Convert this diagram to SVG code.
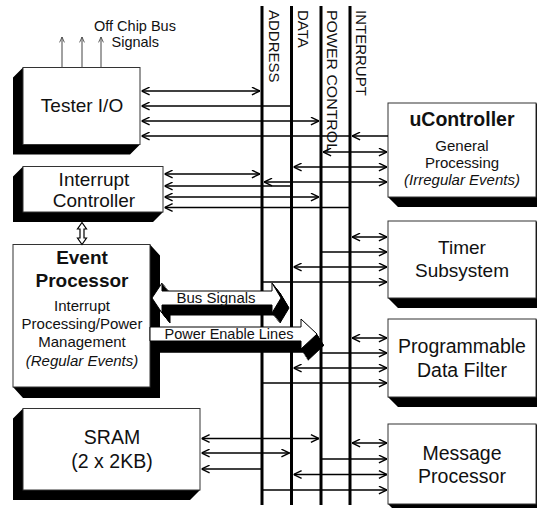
<svg xmlns="http://www.w3.org/2000/svg" xmlns:xlink="http://www.w3.org/1999/xlink" width="537" height="508" viewBox="0 0 537 508">
<style>
  text { font-family: "Liberation Sans", Arial, sans-serif; fill: #111; }
  .box { fill: #fff; stroke: #333; stroke-width: 1; }
  .sh { fill: #000; }
  .bus { stroke: #000; stroke-width: 3; fill: none; }
  .buslbl { font-size: 15px; }
  .c { stroke: #000; stroke-width: 1.3; fill: none; }
  .t19 { font-size: 19px; text-anchor: middle; }
  .b19 { font-size: 19px; font-weight: bold; text-anchor: middle; }
  .t15 { font-size: 15px; text-anchor: middle; }
  .i15 { font-size: 15px; font-style: italic; text-anchor: middle; }
  .fat { fill: #fff; stroke: #000; stroke-width: 1; }
  .fatsh { fill: #000; stroke: #000; stroke-width: 1; }
</style>
<defs>
  <marker id="ah" viewBox="0 0 10 10" refX="10" refY="5" markerWidth="9" markerHeight="9" markerUnits="userSpaceOnUse" orient="auto-start-reverse">
    <path d="M1,0.8 L10,5 L1,9.2" fill="none" stroke="#000" stroke-width="1.6"/>
  </marker>
  <marker id="sm" viewBox="0 0 10 10" refX="10" refY="5" markerWidth="6" markerHeight="6" markerUnits="userSpaceOnUse" orient="auto">
    <path d="M1,1 L10,5 L1,9" fill="none" stroke="#444" stroke-width="1.4"/>
  </marker>
  <polygon id="busSig" points="152,298 162,283 162,291 272,291 272,283 281,298 272,313 272,305 162,305 162,313"/>
  <polygon id="pwrEn" points="150,327 301,327 301,319 317,334 301,349 301,341 150,341"/>
</defs>

<g id="bus-address">
  <line class="bus" x1="262" y1="6" x2="262" y2="505"/>
  <text class="buslbl" transform="translate(268.5,10) rotate(90)">ADDRESS</text>
</g>
<g id="bus-data">
  <line class="bus" x1="291.5" y1="6" x2="291.5" y2="505"/>
  <text class="buslbl" transform="translate(297.5,10) rotate(90)">DATA</text>
</g>
<g id="bus-power">
  <line class="bus" x1="321" y1="6" x2="321" y2="505"/>
  <text class="buslbl" transform="translate(326.5,10) rotate(90)" textLength="142" lengthAdjust="spacingAndGlyphs">POWER CONTROL</text>
</g>
<g id="bus-interrupt">
  <line class="bus" x1="350" y1="6" x2="350" y2="505"/>
  <text class="buslbl" transform="translate(356,10) rotate(90)">INTERRUPT</text>
</g>

<g id="offchip-label">
  <text x="94" y="30.5" style="font-size:14.5px">Off Chip Bus</text>
  <text x="111.5" y="47" style="font-size:14.5px">Signals</text>
</g>

<g id="tester-io">
  <polygon class="sh" points="23,67.5 13,77.5 13,154.5 130,154.5 140,144.5 23,144.5"/>
  <rect class="box" x="23" y="67.5" width="117" height="77"/>
  <text class="t19" x="82" y="112">Tester I/O</text>
</g>

<g id="interrupt-controller">
  <polygon class="sh" points="23,166.5 13,176.5 13,222 153,222 163,212 23,212"/>
  <rect class="box" x="23" y="166.5" width="140" height="45.5"/>
  <text class="t19" x="94" y="186">Interrupt</text>
  <text class="t19" x="94" y="207">Controller</text>
</g>

<g id="event-processor">
  <polygon class="sh" points="150,244.5 160,255.5 160,398 23,398 13,387 150,387"/>
  <rect class="box" x="13" y="244.5" width="137" height="142.5"/>
  <text class="b19" x="82" y="264">Event</text>
  <text class="b19" x="82" y="287">Processor</text>
  <text class="t15" x="82" y="311">Interrupt</text>
  <text class="t15" x="82" y="329">Processing/Power</text>
  <text class="t15" x="82" y="347">Management</text>
  <text class="i15" x="82" y="366">(Regular Events)</text>
</g>

<g id="sram">
  <polygon class="sh" points="23,408.5 13,418.5 13,500 190,500 200,490 23,490"/>
  <rect class="box" x="23" y="408.5" width="177" height="81.5"/>
  <text class="t19" x="112" y="443.5" style="font-size:19.5px">SRAM</text>
  <text class="t19" x="112" y="467.5" style="font-size:19.5px">(2 x 2KB)</text>
</g>

<g id="ucontroller">
  <polygon class="sh" points="536,103 546,113 546,207 398,207 388,197 536,197"/>
  <rect class="box" x="388" y="103" width="148" height="94"/>
  <text class="b19" x="462" y="126" style="font-size:19.5px">uController</text>
  <text class="t15" x="462" y="151">General</text>
  <text class="t15" x="462" y="168">Processing</text>
  <text class="i15" x="462" y="185">(Irregular Events)</text>
</g>

<g id="timer-subsystem">
  <polygon class="sh" points="536,221 546,231 546,308 398,308 388,298 536,298"/>
  <rect class="box" x="388" y="221" width="148" height="77"/>
  <text class="t19" x="462" y="254">Timer</text>
  <text class="t19" x="462" y="277">Subsystem</text>
</g>

<g id="data-filter">
  <polygon class="sh" points="536,319 546,329 546,407 398,407 388,397 536,397"/>
  <rect class="box" x="388" y="319" width="148" height="78"/>
  <text class="t19" x="462" y="353" style="font-size:19.5px">Programmable</text>
  <text class="t19" x="462" y="377" style="font-size:19.5px">Data Filter</text>
</g>

<g id="message-processor">
  <polygon class="sh" points="536,424 546,434 546,514 398,514 388,504 536,504"/>
  <rect class="box" x="388" y="424" width="148" height="80"/>
  <text class="t19" x="462" y="460" style="font-size:19.5px">Message</text>
  <text class="t19" x="462" y="483" style="font-size:19.5px">Processor</text>
</g>

<g id="connectors">
  <!-- off chip -->
  <line x1="62" y1="67.5" x2="62" y2="37" stroke="#444" stroke-width="1" marker-end="url(#sm)"/>
  <line x1="82" y1="67.5" x2="82" y2="37" stroke="#444" stroke-width="1" marker-end="url(#sm)"/>
  <line x1="101" y1="67.5" x2="101" y2="37" stroke="#444" stroke-width="1" marker-end="url(#sm)"/>
  <!-- Tester I/O -->
  <path class="c" d="M141.5,91 H260" marker-start="url(#ah)" marker-end="url(#ah)"/>
  <path class="c" d="M291.5,106 H141.5" marker-end="url(#ah)"/>
  <path class="c" d="M141.5,121 H319" marker-start="url(#ah)" marker-end="url(#ah)"/>
  <path class="c" d="M388,136 H352" marker-end="url(#ah)"/>
  <path class="c" d="M350,136 H141.5" marker-end="url(#ah)"/>
  <!-- Interrupt Controller -->
  <path class="c" d="M164.5,174 H260" marker-start="url(#ah)" marker-end="url(#ah)"/>
  <path class="c" d="M291.5,186 H164.5" marker-end="url(#ah)"/>
  <path class="c" d="M164.5,197 H319" marker-start="url(#ah)" marker-end="url(#ah)"/>
  <path class="c" d="M350,207.5 H164.5" marker-end="url(#ah)"/>
  <!-- uController -->
  <path class="c" d="M323,152 H387" marker-start="url(#ah)" marker-end="url(#ah)"/>
  <path class="c" d="M293.5,167 H387" marker-start="url(#ah)" marker-end="url(#ah)"/>
  <path class="c" d="M264,182 H387" marker-start="url(#ah)" marker-end="url(#ah)"/>
  <!-- Timer -->
  <path class="c" d="M352,237 H387" marker-start="url(#ah)" marker-end="url(#ah)"/>
  <path class="c" d="M321,252 H387" marker-end="url(#ah)"/>
  <path class="c" d="M293.5,267 H387" marker-start="url(#ah)" marker-end="url(#ah)"/>
  <path class="c" d="M262,282 H387" marker-end="url(#ah)"/>
  <!-- Data Filter -->
  <path class="c" d="M352,338 H387" marker-start="url(#ah)" marker-end="url(#ah)"/>
  <path class="c" d="M321,353 H387" marker-end="url(#ah)"/>
  <path class="c" d="M293.5,368 H387" marker-start="url(#ah)" marker-end="url(#ah)"/>
  <path class="c" d="M262,383 H387" marker-end="url(#ah)"/>
  <!-- Message Processor -->
  <path class="c" d="M352,443 H387" marker-start="url(#ah)" marker-end="url(#ah)"/>
  <path class="c" d="M321,459 H387" marker-end="url(#ah)"/>
  <path class="c" d="M293.5,474.5 H387" marker-start="url(#ah)" marker-end="url(#ah)"/>
  <path class="c" d="M262,490 H387" marker-end="url(#ah)"/>
  <!-- SRAM -->
  <path class="c" d="M201.5,438.5 H319" marker-start="url(#ah)" marker-end="url(#ah)"/>
  <path class="c" d="M201.5,453 H289.5" marker-start="url(#ah)" marker-end="url(#ah)"/>
  <path class="c" d="M262,469 H201.5" marker-end="url(#ah)"/>
  <!-- IC <-> EP hollow arrow -->
  <polygon points="82,222.5 86.5,229 84,229 84,238 86.5,238 82,244.5 77.5,238 80,238 80,229 77.5,229" fill="#fff" stroke="#000" stroke-width="1.2"/>
  <!-- Bus Signals fat arrow -->
  <g class="fatsh">
    <use xlink:href="#busSig" transform="translate(1,1.25)"/>
    <use xlink:href="#busSig" transform="translate(2,2.5)"/>
    <use xlink:href="#busSig" transform="translate(3,3.75)"/>
    <use xlink:href="#busSig" transform="translate(4,5)"/>
    <use xlink:href="#busSig" transform="translate(5,6.25)"/>
    <use xlink:href="#busSig" transform="translate(6,7.5)"/>
    <use xlink:href="#busSig" transform="translate(7,8.75)"/>
    <use xlink:href="#busSig" transform="translate(8,10)"/>
  </g>
  <use xlink:href="#busSig" class="fat"/>
  <text x="216" y="303" style="font-size:15px" text-anchor="middle">Bus Signals</text>
  <!-- Power Enable Lines fat arrow -->
  <g class="fatsh">
    <use xlink:href="#pwrEn" transform="translate(1,1.6)"/>
    <use xlink:href="#pwrEn" transform="translate(2,3.2)"/>
    <use xlink:href="#pwrEn" transform="translate(3,4.8)"/>
    <use xlink:href="#pwrEn" transform="translate(4,6.4)"/>
    <use xlink:href="#pwrEn" transform="translate(5,8)"/>
    <use xlink:href="#pwrEn" transform="translate(6,9.6)"/>
    <use xlink:href="#pwrEn" transform="translate(7,11.2)"/>
  </g>
  <use xlink:href="#pwrEn" class="fat"/>
  <text x="229" y="338.5" style="font-size:14.5px" text-anchor="middle">Power Enable Lines</text>
</g>
</svg>
